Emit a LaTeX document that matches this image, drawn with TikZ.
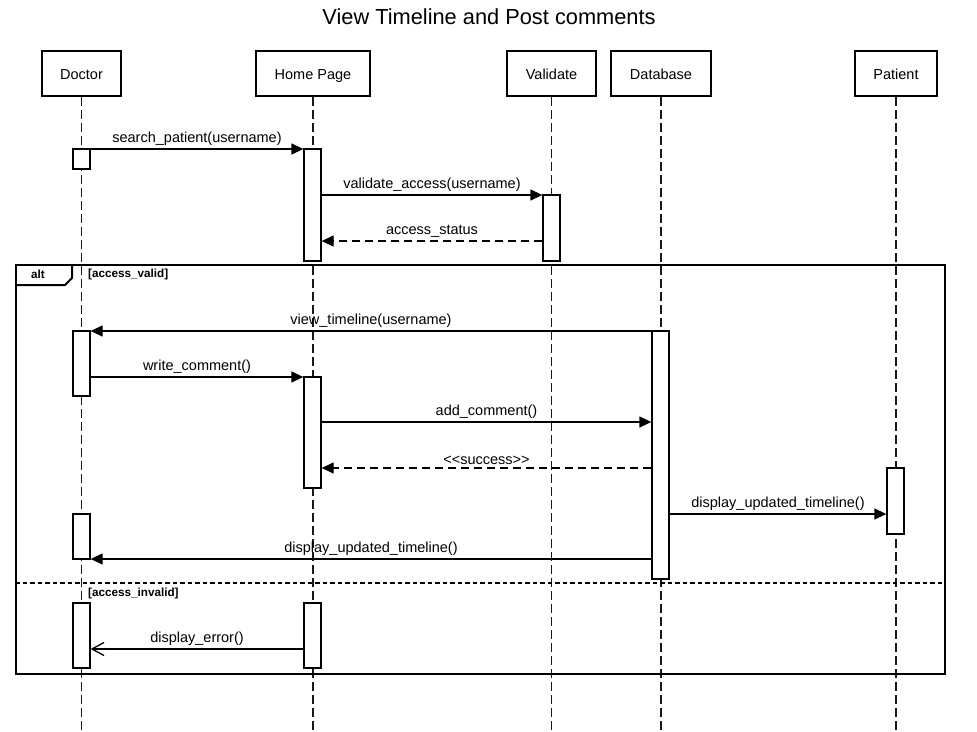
\documentclass[tikz,border=0pt]{standalone}
\usepackage{fontspec}
\setmainfont{Liberation Sans}
\usetikzlibrary{arrows.meta}

\begin{document}
\begin{tikzpicture}[%
            x=1pt, y=-1pt,
            head/.style={
                draw, line width=2pt, minimum height=45pt, inner sep=0pt,
                text height=12.5pt, text depth=0pt,
                font=\fontsize{14.5}{17}\selectfont,
            },
            life/.style={
                line width=1.3pt, dash pattern=on 9pt off 4pt, draw=black!90,
            },
            act/.style={
                draw, fill=white, line width=1.3pt, minimum width=17pt, inner sep=0pt,
            },
            msg/.style={
                line width=1.3pt, -{Triangle[length=12pt,width=11pt]},
            },
            ret/.style={
                msg, dash pattern=on 8pt off 5pt,
            },
            reply/.style={
                line width=1.3pt, -{Straight Barb[length=12pt,width=13pt]},
            },
            lbl/.style={
                above=2pt, inner sep=1pt, font=\fontsize{14.5}{17}\selectfont,
            },
            guard/.style={
                anchor=west, inner sep=0pt, font=\fontsize{11.7}{14}\bfseries,
            },
            frm/.style={
                line width=2pt,
            },
        ]
        \useasboundingbox (0,0) rectangle (977,731);

        \node[font=\fontsize{21.8}{26}\selectfont] (title) at (489,17) {View Timeline and Post comments};

        \node[head, minimum width=79pt] (doctor) at (81.5,73.5) {Doctor};
        \node[head, minimum width=114pt] (home) at (313,73.5) {Home Page};
        \node[head, minimum width=89pt] (validate) at (551.5,73.5) {Validate};
        \node[head, minimum width=100pt] (database) at (661,73.5) {Database};
        \node[head, minimum width=82pt] (patient) at (896,73.5) {Patient};

        \foreach \who in {doctor, home, validate, database, patient} {
            \coordinate (\who-end) at (\who.south |- 0,731);
            \draw[life] (\who.south) -- (\who-end);
        }

        \foreach \n/\y in {1/149, 2/195, 3/241, 4/331, 5/377, 6/422, 7/468, 8/514, 9/559, 10/649, s/583} {
            \coordinate (r\n) at (0,\y);
        }

        \node[draw, frm, minimum width=929pt, minimum height=409pt, inner sep=0pt] (alt) at (480.5,469.5) {};
        \draw[frm] ([xshift=57pt]alt.north west) -- ++(0,14) -- ++(-7,7) -- ([yshift=-21pt]alt.north west);
        \node[guard] (altlbl) at ([xshift=16pt,yshift=-10pt]alt.north west) {alt};
        \draw[frm, dash pattern=on 4.5pt off 3pt] (alt.west |- rs) -- (alt.east |- rs);
        \node[guard] (valid) at (88,274) {[access\_valid]};
        \node[guard] (invalid) at (88,593) {[access\_invalid]};

        \node[act, minimum height=20pt] (d1) at (81.5,159) {};
        \node[act, minimum height=112pt] (h1) at (312.5,205) {};
        \node[act, minimum height=66pt] (v1) at (551.5,228) {};
        \node[act, minimum height=65pt] (d2) at (81.5,363.5) {};
        \node[act, minimum height=248pt] (db1) at (660.5,455) {};
        \node[act, minimum height=111pt] (h2) at (312.5,432.5) {};
        \node[act, minimum height=66pt] (p1) at (895.5,501) {};
        \node[act, minimum height=45pt] (d3) at (81.5,536.5) {};
        \node[act, minimum height=65pt] (d4) at (81.5,635.5) {};
        \node[act, minimum height=65pt] (h3) at (312.5,635.5) {};

        \draw[msg] (d1.east |- r1) -- (h1.west |- r1) node[midway, lbl] {search\_patient(username)};
        \draw[msg] (h1.east |- r2) -- (v1.west |- r2) node[midway, lbl] {validate\_access(username)};
        \draw[ret] (v1.west |- r3) -- (h1.east |- r3) node[midway, lbl] {access\_status};
        \draw[msg] (db1.west |- r4) -- (d2.east |- r4) node[midway, lbl] {view\_timeline(username)};
        \draw[msg] (d2.east |- r5) -- (h2.west |- r5) node[midway, lbl] {write\_comment()};
        \draw[msg] (h2.east |- r6) -- (db1.west |- r6) node[midway, lbl] {add\_comment()};
        \draw[ret] (db1.west |- r7) -- (h2.east |- r7) node[midway, lbl] {<\kern0pt<success>\kern0pt>};
        \draw[msg] (db1.east |- r8) -- (p1.west |- r8) node[midway, lbl] {display\_updated\_timeline()};
        \draw[msg] (db1.west |- r9) -- (d3.east |- r9) node[midway, lbl] {display\_updated\_timeline()};
        \draw[reply] (h3.west |- r10) -- (d4.east |- r10) node[midway, lbl] {display\_error()};
    \end{tikzpicture}
\end{document}
